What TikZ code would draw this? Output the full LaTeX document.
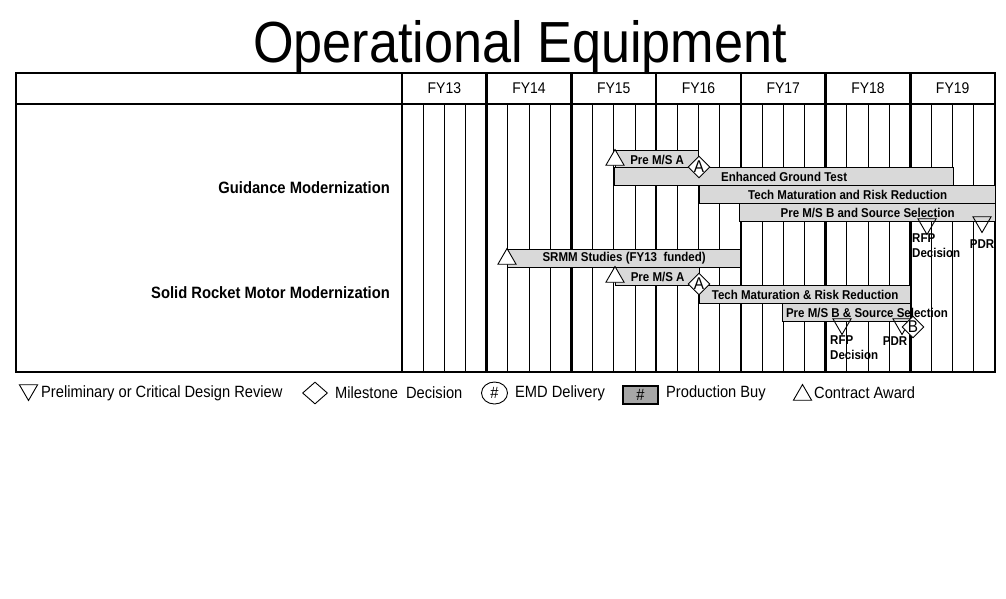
\documentclass[tikz,border=0pt]{standalone}
\usepackage{fontspec}
\setmainfont{Liberation Sans}[FakeStretch=0.9]
\usetikzlibrary{positioning,shapes.geometric}

\newcommand\fTitle{\fontsize{58}{60}\selectfont}
\newcommand\fYear{\fontsize{15.5}{17}\selectfont}
\newcommand\fRow{\fontsize{16.4}{18}\selectfont\bfseries}
\newcommand\fBar{\fontsize{12.8}{15}\selectfont\bfseries}
\newcommand\fLeg{\fontsize{16.3}{18}\selectfont}

\begin{document}
\begin{tikzpicture}[
  x=1pt, y=-1pt,
  frame/.style={draw=black, line width=2.8pt},
  yearline/.style={draw=black, line width=2.6pt},
  quarterline/.style={draw=black, line width=0.8pt},
  bar/.style={draw=black, fill=black!15, line width=1.3pt, inner sep=0pt,
              minimum height=18, anchor=north west, font=\fBar},
  bartext/.style={font=\fBar, inner sep=0pt},
  award/.style={regular polygon, regular polygon sides=3, minimum size=21,
                inner sep=0pt, draw=black, fill=white, line width=0.9pt},
  review/.style={award, shape border rotate=180, fill=none},
  milestone/.style={diamond, draw=black, fill=white, line width=0.9pt,
                    inner sep=0pt, minimum width=21, minimum height=21,
                    font=\fontsize{17}{17}\selectfont},
  rowlabel/.style={font=\fRow, inner sep=0pt, anchor=east},
  yearlabel/.style={font=\fYear, inner sep=0pt},
  legtext/.style={font=\fLeg, inner sep=0pt, anchor=west}
]
  \useasboundingbox (0,0) rectangle (1006,598);

  % --- Title ---
  \node[font=\fTitle, inner sep=0pt, anchor=base] (title) at (520,62)
       {Operational Equipment};

  % --- Grid: quarters thin, years thick ---
  \foreach \i in {0,...,6}{
    \foreach \q in {1,2,3}{
      \pgfmathsetmacro{\xq}{402+84.714*(\i+\q/4)}
      \draw[quarterline] (\xq,104) -- (\xq,372);
    }
  }
  \foreach \i in {0,...,7}{
    \pgfmathsetmacro{\xy}{402+84.714*\i}
    \draw[yearline] (\xy,73) -- (\xy,372);
  }
  \draw[frame] (16,104) -- (995,104);
  \draw[frame] (16,73) rectangle (995,372);

  % --- Year labels ---
  \foreach \yr [count=\i from 0] in {13,...,19}{
    \pgfmathsetmacro{\xc}{402+84.714*(\i+0.5)}
    \node[yearlabel] (fy\yr) at (\xc,88.5) {FY\yr};
  }

  % --- Row labels ---
  \node[rowlabel] (guid) at (390,188) {Guidance Modernization};
  \node[rowlabel] (srmm) at (390,293) {Solid Rocket Motor Modernization};

  % --- Guidance bars ---
  \node[bar, minimum width=83] (gPreA) at (615,150) {Pre M/S A};
  \node[bar, minimum width=339] (gEgt) at (614,167) {Enhanced Ground Test};
  \node[bar, minimum width=296] (gTmrr) at (699,185)
       {Tech Maturation and Risk Reduction};
  \node[bar, minimum width=256] (gPreB) at (739,203)
       {Pre M/S B and Source Selection};

  % --- SRMM bars ---
  \node[bar, minimum width=233] (sStudy) at (507,249)
       {SRMM Studies (FY13 \ funded)};
  \node[bar, minimum width=84] (sPreA) at (615,267) {Pre M/S A};
  \node[bar, minimum width=211] (sTmrr) at (699,285)
       {Tech Maturation \& Risk Reduction};
  \node[bar, minimum width=128] (sPreB) at (782,303) {};
  \node[bartext] (sPreBtxt) at (867,312.5) {Pre M/S B \& Source Selection};

  % --- Guidance markers ---
  \node[award] (gAward) at (615,160) {};
  \node[milestone] (gMsA) at (699,167) {A};
  \node[review] (gRfp) at (927,224) {};
  \node[review] (gPdr) at (982,222) {};
  \node[bartext, align=left, anchor=north west] (gRfpTxt) at (912,233)
       {RFP\\Decision};
  \node[bartext] (gPdrTxt) at (982,244) {PDR};

  % --- SRMM markers ---
  \node[award] (sAward1) at (507,259) {};
  \node[award] (sAward2) at (615,277) {};
  \node[milestone] (sMsA) at (699,284) {A};
  \node[review] (sRfp) at (842,324) {};
  \node[review] (sPdr) at (902,324) {};
  \node[milestone] (sMsB) at (913,327) {B};
  \node[bartext, align=left, anchor=north west] (sRfpTxt) at (830,335)
       {RFP\\Decision};
  \node[bartext] (sPdrTxt) at (895,341) {PDR};

  % --- Legend ---
  \node[review, fill=white] (lgRev) at (28.5,390) {};
  \node[legtext] (lgRevTxt) at (41,393) {Preliminary or Critical Design Review};
  \node[milestone, minimum width=25, minimum height=22] (lgMs) at (315,393) {};
  \node[legtext] (lgMsTxt) at (335,393) {Milestone \ Decision};
  \node[ellipse, draw=black, line width=0.9pt, inner sep=0pt,
        minimum width=26, minimum height=22, font=\fLeg] (lgEmd) at (494.5,393) {\#};
  \node[legtext] (lgEmdTxt) at (515,393) {EMD Delivery};
  \node[rectangle, draw=black, fill=black!35, line width=2pt, inner sep=0pt,
        minimum width=35, minimum height=18, font=\fLeg] (lgProd) at (640.5,395) {\#};
  \node[legtext] (lgProdTxt) at (666,393) {Production Buy};
  \node[award] (lgAward) at (802.5,395) {};
  \node[legtext] (lgAwardTxt) at (814,393) {Contract Award};
\end{tikzpicture}
\end{document}
